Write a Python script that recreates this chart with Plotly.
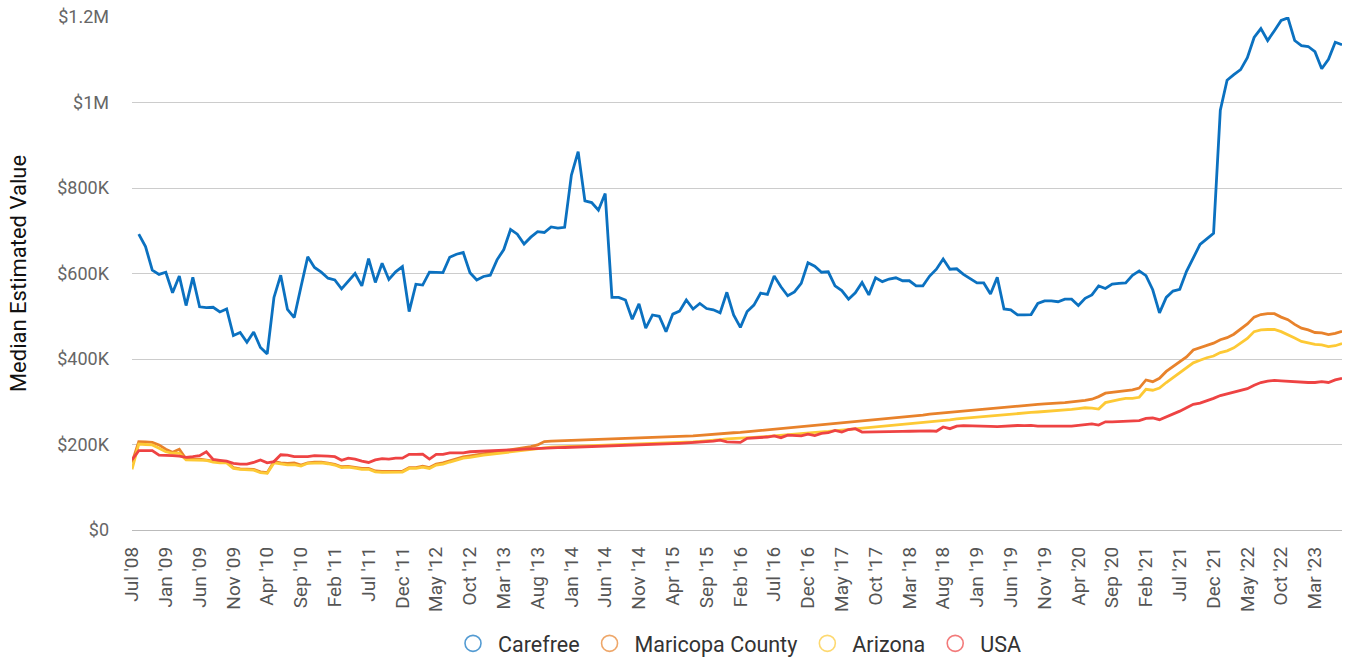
import pandas as pd
import plotly.graph_objects as go

# Categories: first point Jul '08, then monthly from Sep '08 (as labelled on the reference axis)
months = [pd.Timestamp("2008-07-01")] + list(pd.date_range("2008-09-01", periods=179, freq="MS"))
categories = [d.strftime("%b '%y") for d in months]

# Values in $K
carefree = [None, 692, 663, 608, 598, 603, 555, 594, 525, 591, 522, 520, 521, 510, 517, 455, 462, 439, 463, 427,
            412, 544, 596, 516, 497, 569, 639, 614, 603, 589, 585, 564, 581, 600, 571, 635, 579, 624, 586, 604,
            616, 511, 575, 573, 603, 603, 602, 638, 645, 649, 602, 585, 593, 596, 632, 656, 703, 692, 669, 685,
            698, 696, 709, 706, 708, 830, 885, 770, 766, 748, 787, 544, 544, 538, 493, 529, 472, 503, 500, 464,
            505, 512, 538, 517, 530, 518, 515, 508, 556, 503, 474, 511, 526, 554, 551, 594, 569, 548, 557, 577,
            625, 617, 603, 604, 571, 560, 540, 555, 579, 550, 590, 581, 587, 590, 583, 583, 571, 571, 594, 610,
            634, 610, 611, 598, 589, 578, 578, 552, 591, 517, 515, 503, 503, 504, 530, 536, 536, 534, 540, 540,
            525, 542, 550, 571, 565, 575, 577, 578, 596, 606, 595, 562, 508, 544, 559, 563, 605, 637, 668, 681,
            694, 982, 1052, 1065, 1077, 1105, 1152, 1173, 1145, 1168, 1192, 1198, 1145, 1133, 1131, 1119, 1079, 1101, 1141, 1135]

maricopa = [158, 206.6, 206, 205, 199, 189, 182, 189, 166, 165, 166, 164, 161, 159, 159, 146, 143, 142.5, 142, 136,
            134, 160, 157, 156, 157, 152, 157, 159, 159, 156.5, 153.5, 148, 149, 146.5, 144, 144, 138, 137, 137, 137,
            137.5, 146, 146, 149, 146, 154, 157, 162, 167, 171, 173.5, 176.5, 179, 181, 183, 185.5, 187.5, 190, 192, 195,
            199, 207, 208, 208.5, 209, 209.5, 210, 210.5, 211, 211.5, 212, 212.5, 213, 213.5, 214, 214.5, 215, 215.5, 216, 216.5,
            217, 218, 219, 220, 221.5, 223, 224.5, 226, 227, 227.5, 228.5, 230, 231.5, 233, 234.5, 236, 237.5, 239, 240.5, 241.5,
            242.5, 243.5, 245, 246.5, 248.5, 250.5, 252, 254, 255.5, 256.5, 257.5, 259, 260.5, 262, 263.5, 265, 266.5, 268.5, 271, 272.5,
            274, 275.5, 277, 278.5, 280, 281.5, 283, 285, 286.5, 288, 289.5, 291, 292, 293, 294, 295, 295.5, 296.5, 298, 299.5,
            301, 303, 306, 312, 320, 322, 322.5, 325, 328, 332, 351, 347, 355, 371, 383, 394, 405, 421, 426, 431,
            437, 445, 450, 458, 469, 482, 498, 504, 506, 506, 498, 492, 481, 472, 468, 462, 461, 457, 460, 465]

arizona = [142, 201, 200, 199, 191, 183, 179.5, 179.5, 164, 164, 164, 163, 159, 157, 157, 144, 141.6, 141, 140, 134,
           132.5, 157, 154, 152.5, 153, 149.6, 156, 157, 157, 155, 152, 146, 147, 144.5, 142, 142, 136, 135, 135, 135,
           135.5, 144, 144, 147, 144, 152, 154, 159, 164, 168, 170, 173, 175, 177, 179, 181, 183, 185, 187, 189,
           191, 193, 194, 194.5, 195, 195.5, 196, 196.5, 197, 197.5, 198, 198.5, 199, 199.5, 200, 200.5, 201, 201.5, 202, 202.5,
           203, 204, 205, 206, 207, 208, 210, 211.5, 213, 213.5, 214, 215, 216.5, 217.5, 219, 220, 221.5, 223, 224.5, 226,
           227, 228, 229.5, 230.5, 232, 233.5, 235, 237, 238.5, 240, 241, 242, 243.5, 244.7, 246, 248, 249.5, 251, 252.5, 254,
           255.5, 257.5, 260, 261.5, 262.5, 263.5, 265, 266.5, 268, 269.5, 271, 272.5, 274, 275, 276, 277, 278, 279, 280.5, 282,
           284, 286, 285, 283, 298, 302, 305, 308, 308, 310.5, 329, 327, 332, 345, 356, 367, 379, 391, 397, 403,
           407, 415, 419, 426, 437, 448, 464, 468, 469, 469, 464, 457, 449, 441, 438, 434, 433, 429, 431, 436]

usa = [164, 185.6, 185.6, 185.6, 175, 175, 174, 173, 170, 171.5, 174, 183, 165, 163, 161, 156, 154, 154, 158, 164,
       157, 160, 176, 175, 171.5, 171.5, 171.5, 174, 174, 173, 171.5, 163, 168, 166, 161, 158, 164, 167, 166, 168,
       168, 177, 177, 177.5, 166, 177, 177, 180.5, 180.5, 180.5, 183, 183.5, 184, 185, 186, 187, 187.5, 188, 189, 190,
       191, 191.5, 192, 192.6, 193, 193.5, 194, 194.5, 195, 195.3, 195.6, 196.3, 197, 197.7, 198.4, 199, 199.6, 200.2, 200.8, 201.4,
       202, 202.8, 203.6, 204.4, 205.2, 206, 208, 210, 206, 205.5, 205, 214.6, 215, 216, 217.5, 220, 216, 222, 221, 220,
       224, 221, 226, 227.5, 233, 229, 235, 237, 229, 229, 229, 229.5, 230, 230, 230.5, 231, 231.5, 232, 232, 231,
       241, 237, 243, 244, 244, 243, 243, 242.5, 242, 243, 244, 244.5, 244, 244.5, 243, 243, 244, 243, 242.5, 243,
       244.5, 246, 248, 245.6, 253, 253, 254, 255.7, 255, 256, 261, 262, 258, 264.5, 272, 278, 286, 294, 297, 302,
       308, 314.5, 318.6, 322.6, 326.6, 330.7, 338.7, 345, 348, 350, 349, 348, 347, 345, 345, 345, 347, 345, 351, 355]

series_names = ["Carefree", "Maricopa County", "Arizona", "USA"]
series_values = [carefree, maricopa, arizona, usa]
colors = ["#0b71c0", "#e8822b", "#fdc935", "#ee4343"]

ytick_vals = [0, 200000, 400000, 600000, 800000, 1000000, 1200000]
ytick_text = ["$0", "$200K", "$400K", "$600K", "$800K", "$1M", "$1.2M"]
xtick_vals = categories[::5]

fig = go.Figure()
for name, vals, col in zip(series_names, series_values, colors):
    y = [None if v is None else v * 1000 for v in vals]
    fig.add_trace(go.Scatter(x=categories, y=y, mode="lines", name=name,
                             line=dict(color=col, width=2.8), showlegend=False))
for name, col in zip(series_names, colors):
    fig.add_trace(go.Scatter(x=[categories[0]], y=[None], mode="markers", name=name,
                             marker=dict(symbol="circle-open", size=16, color=col,
                                         line=dict(width=1.6, color=col)),
                             opacity=0.7, showlegend=True))

fig.update_layout(
    width=1346, height=658,
    margin=dict(l=132, r=4, t=17, b=128, autoexpand=False),
    paper_bgcolor="white", plot_bgcolor="white",
    font=dict(family="Roboto, Arial, sans-serif"),
    showlegend=True,
    legend=dict(orientation="h", x=0.5, xanchor="center", y=-0.181, yanchor="top",
                font=dict(size=21.5, color="#333333"), itemsizing="trace",
                itemwidth=40, tracegroupgap=0),
    xaxis=dict(type="category", range=[0, 179], tickmode="array", tickvals=xtick_vals,
               ticktext=xtick_vals, tickangle=-90, showgrid=False, zeroline=False,
               tickfont=dict(size=19, color="#555555"), ticks="", ticklabelstandoff=12,
               showline=False, automargin=False),
    yaxis=dict(range=[0, 1200000], tickmode="array", tickvals=ytick_vals, ticktext=ytick_text,
               showgrid=True, gridcolor="#cccccc", gridwidth=1, zeroline=True,
               zerolinecolor="#bbbbbb", zerolinewidth=1, automargin=False,
               tickfont=dict(size=18, color="#666666"), ticks="", ticklabelstandoff=22,
               title=dict(text="Median Estimated Value", font=dict(size=22, color="#111111"),
                          standoff=24)),
)

fig.write_html("out.html", config={"displayModeBar": False},
               post_script="document.body.style.margin='0';document.body.style.overflow='hidden';")
